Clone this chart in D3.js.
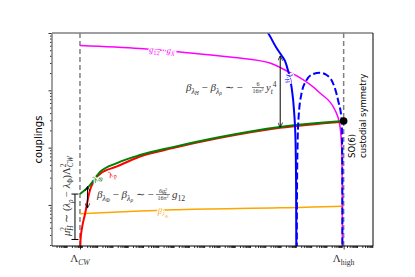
<!DOCTYPE html>
<html>
<head>
<meta charset="utf-8">
<script src="https://cdn.jsdelivr.net/npm/d3@7"></script>
<style>
body { margin: 0; background: #fff; }
text { font-family: "Liberation Serif", serif; }
</style>
</head>
<body>
<div id="chart"></div>
<script>
// scale positions, log10(mu)
var lamCW = 1.83, lamHigh = 19.08;

// couplings: [log10(mu), value]
var g12gX = [[1.83,0.605],[5.76,0.536],[8.37,0.466],[11.64,0.381],[14.26,0.30],[15.24,0.226],[16.02,0.178],
             [17.53,0.0897],[18.51,0.0453],[18.83,0.0248],[18.96,0.0091],[18.99,0.002],[19.0,0.00001]];
var lamH = [[13.8,1.27],[14.13,1.0],[14.65,0.57],[15.04,0.397],[15.24,0.325],[15.43,0.226],[15.68,0.11],
            [15.83,0.0453],[15.93,0.0136],[15.97,0.002],[16.0,0.00001]];
var lamHneg = [[16.0,0.00001],[16.03,0.002],[16.06,0.0091],[16.12,0.03],[16.33,0.0897],[16.66,0.151],[17.07,0.192],
               [17.53,0.203],[17.97,0.185],[18.38,0.134],[18.71,0.068],[18.95,0.03],[18.99,0.005],[19.0,0.00001]];
var lamPhi = [[1.83,0.00155],[2.485,0.00222],[3.14,0.00375],[4.25,0.00538],[5.76,0.00743],[7.91,0.0102],
              [11.0,0.0153],[14.91,0.0229],[19.08,0.0291]];
var lamRho = [[1.83,0.00001],[1.85,0.00012],[1.864,0.000244],[1.962,0.000395],[2.158,0.00069],[2.485,0.00182],
              [2.81,0.00272],[3.14,0.00347],[4.25,0.00470],[5.76,0.0070],[7.91,0.0098],
              [11.0,0.0148],[14.91,0.0222],[19.08,0.0284]];
var betaPhi = [[1.83,0.000703],[5.76,0.000783],[7.91,0.000825],[14.91,0.000893],[18.95,0.000946],[19.08,0.00095]];

var xDecades = [0, 21];
var yDecades = [-3.716, 0.0];

var width = 415, height = 277;
var margin = {top: 33, right: 42, bottom: 31, left: 52};
var iw = width - margin.left - margin.right,
    ih = height - margin.top - margin.bottom;

var x = d3.scaleLog().domain([Math.pow(10, xDecades[0]), Math.pow(10, xDecades[1])]).range([0, iw]);
var y = d3.scaleLog().domain([Math.pow(10, yDecades[0]), Math.pow(10, yDecades[1])]).range([ih, 0]);

var svg = d3.select("#chart").append("svg")
    .attr("width", width).attr("height", height);

var defs = svg.append("defs");
defs.append("clipPath").attr("id", "clip")
    .append("rect").attr("width", iw).attr("height", ih);

var g = svg.append("g").attr("transform", "translate(" + margin.left + "," + margin.top + ")");

// ticks
var xMinor = [];
for (var d = xDecades[0]; d < xDecades[1]; d++)
    for (var k = 2; k <= 9; k++) xMinor.push(k * Math.pow(10, d));
var yMinor = [], yMajor = [];
for (var d = Math.floor(yDecades[0]); d <= yDecades[1]; d++) {
    yMajor.push(Math.pow(10, d));
    for (var k = 2; k <= 9; k++) yMinor.push(k * Math.pow(10, d));
}
yMinor = yMinor.filter(function (v) { return v >= y.domain()[0] && v <= y.domain()[1]; });
yMajor = yMajor.filter(function (v) { return v >= y.domain()[0] && v <= y.domain()[1] * 1.0001; });

g.append("g").attr("transform", "translate(0," + ih + ")")
    .call(d3.axisBottom(x).tickValues(xMinor).tickSize(2).tickFormat(""))
    .call(function (s) { s.select(".domain").remove(); });
g.append("g").attr("transform", "translate(0," + ih + ")")
    .call(d3.axisBottom(x).tickValues([Math.pow(10, lamCW), Math.pow(10, lamHigh)]).tickSize(3.5).tickFormat(""))
    .call(function (s) { s.select(".domain").remove(); });
g.append("g").call(d3.axisLeft(y).tickValues(yMinor).tickSize(2).tickFormat(""))
    .call(function (s) { s.select(".domain").remove(); });
g.append("g").call(d3.axisLeft(y).tickValues(yMajor).tickSize(3.5).tickFormat(""))
    .call(function (s) { s.select(".domain").remove(); });
g.selectAll(".tick line").attr("stroke", "#000").attr("stroke-width", 0.8);

// threshold lines
[lamCW, lamHigh].forEach(function (t) {
    g.append("line")
        .attr("x1", x(Math.pow(10, t))).attr("x2", x(Math.pow(10, t)))
        .attr("y1", 0).attr("y2", ih)
        .attr("stroke", "#808080").attr("stroke-width", 1.5).attr("stroke-dasharray", "5,3");
});

var line = d3.line()
    .x(function (d) { return x(Math.pow(10, d[0])); })
    .y(function (d) { return y(d[1]); })
    .curve(d3.curveMonotoneX);

var plot = g.append("g").attr("clip-path", "url(#clip)");

function curve(data, color, w, dash) {
    plot.append("path").datum(data)
        .attr("d", line)
        .attr("fill", "none")
        .attr("stroke", color)
        .attr("stroke-width", w)
        .attr("stroke-dasharray", dash || null);
}
curve(betaPhi, "orange", 1.5);
curve(g12gX, "magenta", 1.5);
curve(lamRho, "red", 2);
curve(lamPhi, "green", 2);
curve(lamHneg, "blue", 2, "7,3");
curve(lamH, "blue", 2);

g.append("circle")
    .attr("cx", x(Math.pow(10, lamPhi[lamPhi.length - 1][0])))
    .attr("cy", y(lamPhi[lamPhi.length - 1][1]))
    .attr("r", 3.8).attr("fill", "#000");

// math-ish text: parts are [text, level, size factor, italic, dx]
// level in units of the base size, + is down
function mtext(parent, px, py, parts, size, color) {
    var t = parent.append("text").attr("x", px).attr("y", py)
        .attr("font-size", size).attr("fill", color || "#333");
    var lvl = 0;
    parts.forEach(function (p) {
        var l = p[1] || 0;
        var s = t.append("tspan").text(p[0])
            .attr("dy", (l - lvl) * size)
            .attr("font-size", size * (p[2] || 1));
        if (p[3]) s.attr("font-style", "italic");
        if (p[4]) s.attr("dx", p[4]);
        lvl = l;
    });
    return t;
}
var SUB = 0.25, SUB2 = 0.4, SUP = -0.4;

// curve labels, white halo cuts the line like labelLines does
function label(tx, ty, rot, color, parts) {
    var lg = g.append("g").attr("transform", "translate(" + tx + "," + ty + ") rotate(" + rot + ")");
    mtext(lg, 0, 3, parts, 9, color)
        .attr("text-anchor", "middle")
        .attr("stroke", "#fff").attr("stroke-width", 2.5).attr("paint-order", "stroke");
}
label(110, 17, 3, "magenta", [["g", 0, 1, 1], ["12", SUB, 0.7], [" · g", 0, 1, 1], ["X", SUB, 0.7, 1]]);
label(238, 45, 75, "blue", [["λ", 0, 1, 1], ["H", SUB, 0.7, 1]]);
label(45, 145, -35, "green", [["λ", 0, 1, 1], ["Φ", SUB, 0.7]]);
label(60, 141, -25, "red", [["λ", 0, 1, 1], ["ρ", SUB, 0.7, 1]]);
label(111, 178, 0, "orange", [["β", 0, 1, 1], ["λ", SUB, 0.7, 1], ["Φ", SUB2, 0.5]]);

// axes frame
g.append("line").attr("x1", 0).attr("x2", iw).attr("y1", 0).attr("y2", 0).attr("stroke", "#808080").attr("stroke-width", 1.5);
g.append("line").attr("x1", 0).attr("x2", 0).attr("y1", 0).attr("y2", ih).attr("stroke", "#808080").attr("stroke-width", 1.5);
g.append("line").attr("x1", iw).attr("x2", iw).attr("y1", 0).attr("y2", ih).attr("stroke", "#000").attr("stroke-width", 1);
g.append("line").attr("x1", 0).attr("x2", iw).attr("y1", ih).attr("y2", ih).attr("stroke", "#000").attr("stroke-width", 1);

// x tick labels
mtext(g, x(Math.pow(10, lamCW)), ih + 16, [["Λ", 0, 1], ["CW", SUB, 0.7, 1]], 11).attr("text-anchor", "middle");
mtext(g, x(Math.pow(10, lamHigh)), ih + 16, [["Λ", 0, 1], ["high", SUB, 0.7]], 11).attr("text-anchor", "middle");

// y label
svg.append("text")
    .attr("transform", "translate(42," + (margin.top + ih / 2) + ") rotate(-90)")
    .attr("text-anchor", "middle")
    .style("font-family", "DejaVu Sans, sans-serif").attr("font-size", 10)
    .text("couplings");

// SO(6) note
svg.append("text")
    .attr("transform", "translate(355,158) rotate(-90)")
    .style("font-family", "DejaVu Sans, sans-serif").attr("font-size", 8.5)
    .text("SO(6)");
svg.append("text")
    .attr("transform", "translate(366,158) rotate(-90)")
    .style("font-family", "DejaVu Sans, sans-serif").attr("font-size", 8.5)
    .text("custodial symmetry");

// arrows
defs.append("marker").attr("id", "ah").attr("viewBox", "0 0 10 10")
    .attr("refX", 10).attr("refY", 5).attr("markerWidth", 5).attr("markerHeight", 5)
    .attr("orient", "auto-start-reverse")
    .append("path").attr("d", "M0,0 L10,5 L0,10").attr("fill", "none").attr("stroke", "#000").attr("stroke-width", 1.5);

function dArrow(t, v1, v2) {
    g.append("line")
        .attr("x1", x(Math.pow(10, t))).attr("x2", x(Math.pow(10, t)))
        .attr("y1", y(v1)).attr("y2", y(v2))
        .attr("stroke", "#000").attr("stroke-width", 1)
        .attr("marker-start", "url(#ah)").attr("marker-end", "url(#ah)");
}
dArrow(14.93, 0.40, 0.0225);
dArrow(2.32, 0.0021, 0.00088);

// bracket for mu_H^2
var bx = x(Math.pow(10, lamCW)) - 5, by1 = y(lamPhi[0][1]), by2 = y(0.00025);
g.append("line").attr("x1", bx).attr("x2", bx).attr("y1", by1).attr("y2", by2).attr("stroke", "#000").attr("stroke-width", 1);
[by1, by2].forEach(function (yy) {
    g.append("line").attr("x1", bx - 3.5).attr("x2", bx + 3.5).attr("y1", yy).attr("y2", yy).attr("stroke", "#000").attr("stroke-width", 1);
});

function frac(parent, cx, cy, num, den, size, hw) {
    mtext(parent, cx, cy - 1.2, num, size).attr("text-anchor", "middle");
    mtext(parent, cx, cy + size * 0.85, den, size).attr("text-anchor", "middle");
    parent.append("line").attr("x1", cx - hw).attr("x2", cx + hw).attr("y1", cy).attr("y2", cy)
        .attr("stroke", "#333").attr("stroke-width", 0.6);
}

var a1 = svg.append("g");
mtext(a1, 186, 91, [["β", 0, 1, 1], ["λ", SUB, 0.7, 1], ["H", SUB2, 0.5, 1], [" − ", 0], ["β", 0, 1, 1],
                    ["λ", SUB, 0.7, 1], ["ρ", SUB2, 0.5, 1], [" ∼ −", 0]], 11);
frac(a1, 258, 87.5, [["6", 0]], [["16π", 0], ["2", -0.35, 0.7]], 6, 6);
mtext(a1, 266, 91, [["y", 0, 1, 1], ["t", SUB, 0.7, 1], ["4", SUP, 0.7]], 10.5);

var a2 = svg.append("g");
mtext(a2, 97, 198, [["β", 0, 1, 1], ["λ", SUB, 0.7, 1], ["Φ", SUB2, 0.5], [" − ", 0], ["β", 0, 1, 1],
                    ["λ", SUB, 0.7, 1], ["ρ", SUB2, 0.5, 1], [" ∼ −", 0]], 11);
frac(a2, 163, 194.5, [["6g", 0, 1, 1], ["2", -0.35, 0.7], ["X", 0.3, 0.7, 1, -3]], [["16π", 0], ["2", -0.35, 0.7]], 6, 7);
mtext(a2, 172, 198, [["g", 0, 1, 1], ["12", SUB, 0.7]], 11);

var a3 = svg.append("g").attr("transform", "translate(70,236) rotate(-90)");
mtext(a3, 0, 0, [["μ", 0, 1, 1], ["2", SUP, 0.7], ["H", 0.3, 0.7, 1, -3.6], [" ∼ (", 0], ["λ", 0, 1, 1], ["ρ", SUB, 0.7, 1],
                 [" − ", 0], ["λ", 0, 1, 1], ["Φ", SUB, 0.7], [")Λ", 0], ["2", SUP, 0.7], ["CW", 0.3, 0.7, 1, -3.6]], 10.5);
</script>
</body>
</html>
